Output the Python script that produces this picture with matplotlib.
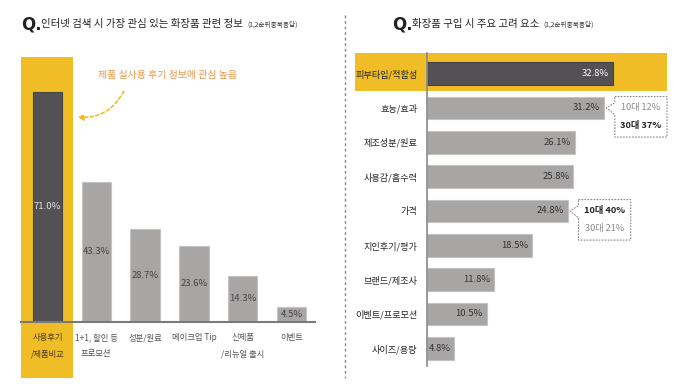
import matplotlib
matplotlib.use('Agg')
import matplotlib.pyplot as plt
from matplotlib.patches import Rectangle, Polygon
from matplotlib.lines import Line2D
from matplotlib.text import Annotation

plt.rcParams['font.family'] = ['Noto Sans CJK KR', 'DejaVu Sans']

# --- 데이터 ---
left_cats = ['사용후기\n/제품비교', '1+1, 할인 등\n프로모션', '성분/원료', '메이크업 Tip',
             '신제품\n/리뉴얼 출시', '이벤트']
left_vals = [71.0, 43.3, 28.7, 23.6, 14.3, 4.5]

right_cats = ['피부타입/적합성', '효능/효과', '제조성분/원료', '사용감/흡수력', '가격',
              '지인후기/평가', '브랜드/제조사', '이벤트/프로모션', '사이즈/용량']
right_vals = [32.8, 31.2, 26.1, 25.8, 24.8, 18.5, 11.8, 10.5, 4.8]

# 말풍선 (막대 index, 윗줄, 아랫줄, 굵은 줄)
callouts = [(1, '10대 12%', '30대 37%', 1), (4, '10대 40%', '30대 21%', 0)]

YELLOW = '#F0BD27'
DARK = '#545155'
GREY = '#A8A5A5'
W, H = 700, 391

fig = plt.figure(figsize=(7, 3.91), dpi=100)
fig.patch.set_facecolor('white')


def fx(px):
    return px / W


def fy(py):
    return 1 - py / H


def title(x0, text):
    fig.text(fx(x0), fy(24), 'Q.', fontsize=12, fontweight='bold', color='#222222',
             va='center', family=['DejaVu Sans'])
    t = fig.text(fx(x0 + 20), fy(24), text, fontsize=7.5, color='#222222', va='center')
    fig.add_artist(Annotation('(1,2순위중복응답)', xy=(1, 0.42), xycoords=t, xytext=(3, 0),
                              textcoords='offset points', va='center', fontsize=4.8,
                              color='#333333'))


# --- 제목 ---
title(21, '인터넷 검색 시 가장 관심 있는 화장품 관련 정보')
title(392, '화장품 구입 시 주요 고려 요소')

# 구분선
fig.add_artist(Line2D([fx(345), fx(345)], [fy(15), fy(378)], color='#888888', lw=1,
                      ls=(0, (2, 2))))

# --- 왼쪽: 세로 막대 ---
ax1 = fig.add_axes([fx(21), fy(322), fx(315) - fx(21), fy(57) - fy(322)])
ax1.set_facecolor('none')
x = list(range(len(left_vals)))
ax1.set_xlim(-0.543, 5.48)
ax1.set_ylim(0, 81.8)

# 1위 강조 영역
ax1.add_patch(Rectangle((-0.543, -17.3), 1.066, 81.8 + 17.3, facecolor=YELLOW,
                        edgecolor='none', clip_on=False, zorder=0))
colors = [DARK] + [GREY] * (len(left_vals) - 1)
ax1.bar(x, left_vals, width=0.6, color=colors, edgecolor=['#444444'] + ['#C4C2C2'] * 5,
        linewidth=0.8, zorder=2)
for i, v in enumerate(left_vals):
    ax1.text(i, v / 2, f'{v:.1f}%', ha='center', va='center', fontsize=6.8,
             color='#E0E0E0' if i == 0 else '#444444', zorder=3)

for s in ['top', 'right', 'left']:
    ax1.spines[s].set_visible(False)
ax1.spines['bottom'].set_color('#7A7A7A')
ax1.spines['bottom'].set_linewidth(1.5)
ax1.set_yticks([])
ax1.set_xticks(x)
ax1.set_xticklabels(left_cats, fontsize=6.0, linespacing=2.0)
ax1.tick_params(axis='x', length=0, pad=8)
for i, lbl in enumerate(ax1.get_xticklabels()):
    lbl.set_color('#4A3A20' if i == 0 else '#555555')

ax1.text(2.45, 76.2, '제품 실사용 후기 정보에 관심 높음', ha='center', va='center',
         fontsize=7.2, color='#E8964A')
ax1.annotate('', xy=(0.56, 63.3), xytext=(1.59, 72.0),
             arrowprops=dict(arrowstyle='-|>', color=YELLOW, lw=1.2, ls=(0, (2, 1.5)),
                             connectionstyle='arc3,rad=-0.35', mutation_scale=8))

# --- 오른쪽: 가로 막대 ---
ax2 = fig.add_axes([fx(427), fy(366), fx(667) - fx(427), fy(53) - fy(366)])
ax2.set_facecolor('none')
y = list(range(len(right_vals)))
ax2.set_xlim(0, 42.3)
ax2.set_ylim(8.515, -0.597)

ax2.add_patch(Rectangle((-12.7, -0.597), 12.7 + 42.3, 1.106, facecolor=YELLOW,
                        edgecolor='none', clip_on=False, zorder=0))
colors = [DARK] + [GREY] * (len(right_vals) - 1)
ax2.barh(y, right_vals, height=0.66, color=colors,
         edgecolor=['#444444'] + ['#C4C2C2'] * 8, linewidth=0.8, zorder=2)
for i, v in enumerate(right_vals):
    ax2.text(v - 0.7, i, f'{v:.1f}%', ha='right', va='center', fontsize=6.8,
             color='white' if i == 0 else '#333333', zorder=3)

for s in ['top', 'right', 'bottom']:
    ax2.spines[s].set_visible(False)
ax2.spines['left'].set_color('#8A8A8A')
ax2.spines['left'].set_linewidth(1.2)
ax2.spines['left'].set_zorder(4)
ax2.set_xticks([])
ax2.set_yticks(y)
ax2.set_yticklabels(right_cats, fontsize=6.6, color='#262626')
ax2.tick_params(axis='y', length=0, pad=7)

# 말풍선
for idx, top, bottom, bold_line in callouts:
    v = right_vals[idx]
    tip = v + 0.4
    x0, x1 = v + 1.9, v + 11.1
    y0, y1 = idx - 0.33, idx + 0.85
    pts = [(x0, y0), (x1, y0), (x1, y1), (x0, y1), (x0, idx + 0.2), (tip, idx),
           (x0, idx - 0.15)]
    ax2.add_patch(Polygon(pts, closed=True, facecolor='white', edgecolor='#888888', lw=0.8,
                          ls=(0, (1.5, 1.2)), clip_on=False, zorder=3))
    xc = (x0 + x1) / 2
    ax2.text(xc, idx - 0.02, top, ha='center', va='center', fontsize=6.6, zorder=4,
             color='#222222' if bold_line == 0 else '#8A8A8A',
             fontweight='bold' if bold_line == 0 else 'normal')
    ax2.text(xc, idx + 0.5, bottom, ha='center', va='center', fontsize=6.6, zorder=4,
             color='#222222' if bold_line == 1 else '#8A8A8A',
             fontweight='bold' if bold_line == 1 else 'normal')

fig.savefig('out.png', dpi=100, facecolor='white')
